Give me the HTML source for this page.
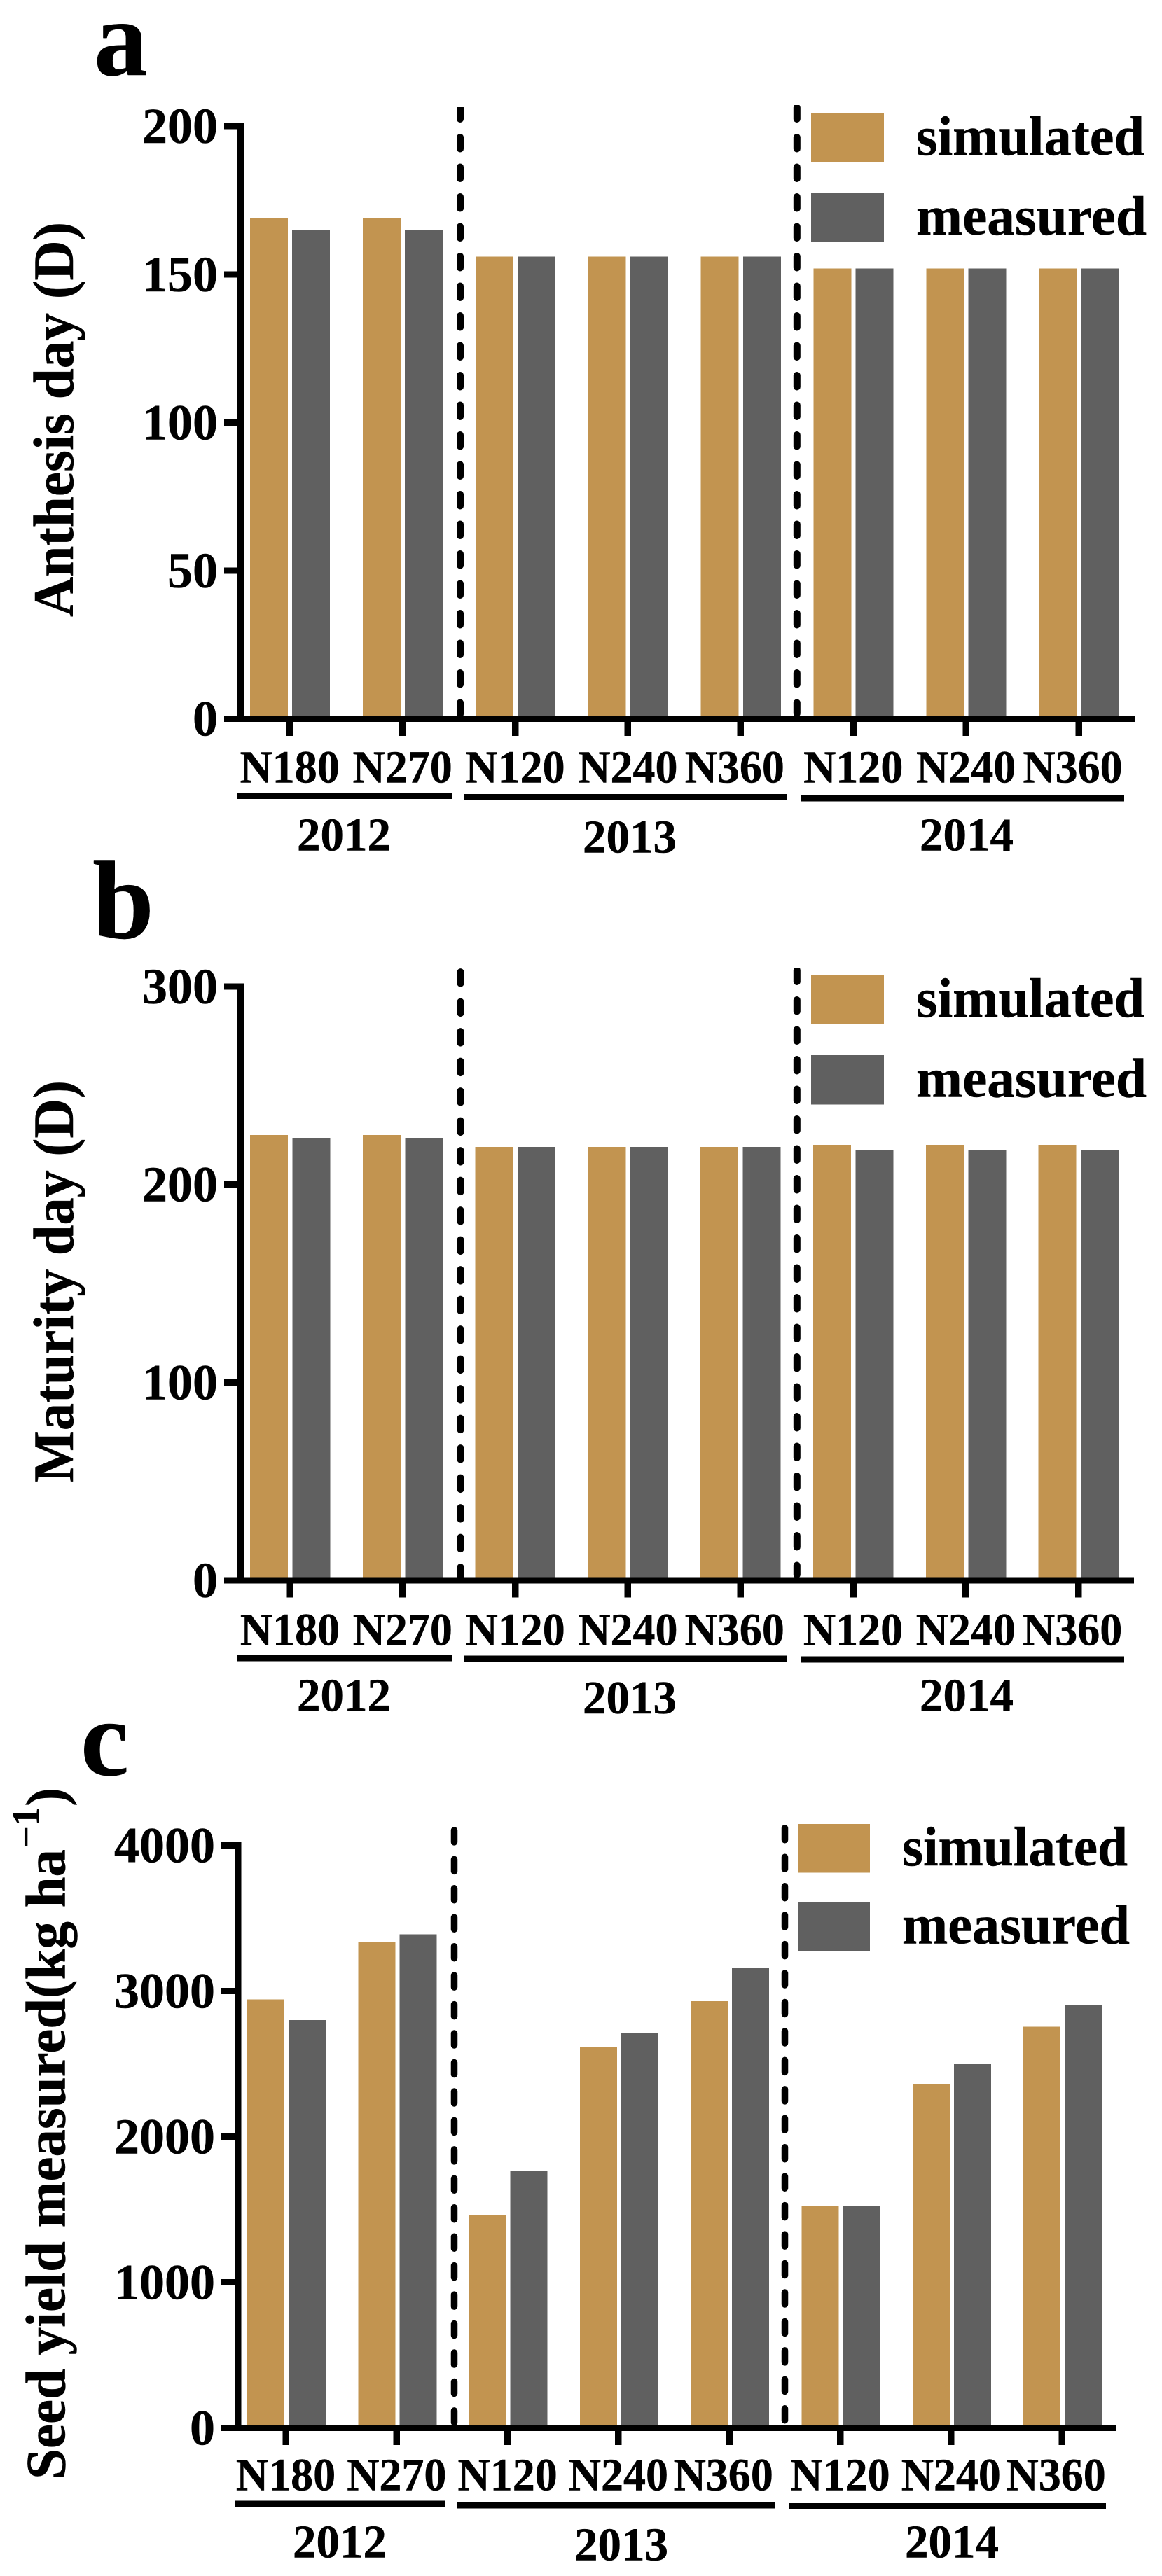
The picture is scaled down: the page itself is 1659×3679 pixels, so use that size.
<!DOCTYPE html>
<html lang="en">
<head>
<meta charset="utf-8">
<title>Simulated and measured anthesis day, maturity day and seed yield</title>
<style>
html,body{margin:0;padding:0;background:#fff;}
body{width:1659px;height:3679px;overflow:hidden;}
svg{display:block;}
rect{shape-rendering:crispEdges;}
text{font-family:"Liberation Serif","DejaVu Serif",serif;font-weight:bold;fill:#000;stroke:#000;stroke-width:.5px;}
</style>
</head>
<body>
<svg id="figure" xmlns="http://www.w3.org/2000/svg" width="1659" height="3679" viewBox="0 0 1659 3679"></svg>
<script>
const categories = ['N180','N270','N120','N240','N360','N120','N240','N360'];
const years = ['2012','2013','2014'];
const anthesisSimulated = [169,169,156,156,156,152,152,152];
const anthesisMeasured = [165,165,156,156,156,152,152,152];
const anthesisTicks = [0,50,100,150,200];
const maturitySimulated = [225,225,219,219,219,220,220,220];
const maturityMeasured = [223.5,223.5,219,219,219,217.5,217.5,217.5];
const maturityTicks = [0,100,200,300];
const yieldSimulated = [2942,3333,1463,2616,2930,1525,2363,2754];
const yieldMeasured = [2800,3390,1762,2712,3156,1525,2497,2903];
const yieldTicks = [0,1000,2000,3000,4000];

const GOLD = '#c29450';
const GRAY = '#606060';
const svg = document.getElementById('figure');

function add(parent, tag, attrs) {
  const el = document.createElementNS('http://www.w3.org/2000/svg', tag);
  for (const k in attrs) el.setAttribute(k, attrs[k]);
  parent.appendChild(el);
  return el;
}
function box(parent, x, y, w, h, fill, name) {
  const el = add(parent, 'rect', {x: x, y: y, width: w, height: h, fill: fill});
  
  
  return el;
}
function label(parent, str, x, y, size, sx, anchor, name) {
  const el = add(parent, 'text', {transform: 'translate(' + x + ' ' + y + ') scale(' + sx + ' 1)', 'font-size': size, 'text-anchor': anchor});
  el.textContent = str;
  
  
  return el;
}
function fitted(parent, str, x, y, size, len, rotate, name) {
  const attrs = {'font-size': size, textLength: len, lengthAdjust: 'spacingAndGlyphs'};
  attrs.transform = 'translate(' + x + ' ' + y + ')' + (rotate ? ' rotate(-90)' : '');
  const el = add(parent, 'text', attrs);
  el.textContent = str;
  
  
  return el;
}
/* rounded dashes; the first dash is cut flat at y1 as in the reference */
function dashed(parent, d, width, period, name) {
  const r = width / 2;
  const body = 26.5 - width;
  const phase = ((d.secondCapTop + r - d.y1) % period + period) % period;
  const el = add(parent, 'line', {x1: d.x, x2: d.x, y1: d.y1, y2: d.y2, stroke: '#000', 'stroke-width': width, 'stroke-linecap': 'round', 'stroke-dasharray': body + ' ' + (period - body), 'stroke-dashoffset': period - phase});
  
  
  const maskEl = box(parent, d.x - width, d.y1 - width - 1, width * 2, width + 1, '#fff', name + '-top-trim');
  return el;
}

function drawPanel(p) {
  const g = add(svg, 'g', {});
  
  

  const yScale = v => p.base - v / p.max * (p.base - p.top);
  const xScale = i => p.x0 + i * p.step;

  /* separators (under the axis) */
  dashed(g, p.dash1, p.dashW, p.dashPeriod, 'year-separator-1');
  dashed(g, p.dash2, p.dashW, p.dashPeriod, 'year-separator-2');

  /* bars */
  categories.forEach((c, i) => {
    const yr = years[i < 2 ? 0 : i < 5 ? 1 : 2];
    const ys = yScale(p.simulated[i]);
    const ym = yScale(p.measured[i]);
    box(g, xScale(i) + p.simOffset, ys, p.barW, p.base - ys, GOLD, 'bar-simulated-' + yr + '-' + c.toLowerCase());
    box(g, xScale(i) + p.measOffset, ym, p.barW, p.base - ym, GRAY, 'bar-measured-' + yr + '-' + c.toLowerCase());
  });

  /* axes */
  box(g, p.axisX, p.top - 4.5, 9, p.base - p.top + 9, '#000', 'y-axis-line');
  box(g, p.tickLeft, p.base - 4.5, p.axisEnd - p.tickLeft, 9, '#000', 'x-axis-line');

  /* y ticks */
  p.ticks.forEach(t => {
    box(g, p.tickLeft, yScale(t) - 4.5, p.axisX - p.tickLeft, 9, '#000', 'y-tick-' + t);
    label(g, String(t), p.tickLabelX, yScale(t) + 24, 72, 1, 'end', 'y-tick-label-' + t);
  });

  /* x ticks and labels */
  categories.forEach((c, i) => {
    box(g, xScale(i) - 4.75, p.base + 4, 9.5, 20.5, '#000', 'x-tick-' + i);
    const shift = c === 'N360' ? -8.5 : 0;
    label(g, c, xScale(i) + shift, p.base + p.catDy, 66, 0.97, 'middle', 'x-tick-label-' + i);
  });

  /* year brackets */
  years.forEach((yr, i) => {
    box(g, p.brackets[i][0], p.base + p.bracketDy[i] - 4.5, p.brackets[i][1] - p.brackets[i][0], 9, '#000', 'year-bracket-' + yr);
    label(g, yr, p.yearX[i], p.base + p.yearDy[i], 67, 1, 'middle', 'year-label-' + yr);
  });

  /* legend */
  const lg = add(g, 'g', {});
  
  
  box(lg, p.legX, p.legY1, p.legW, p.legH, GOLD, 'legend-swatch-simulated');
  box(lg, p.legX, p.legY2, p.legW, p.legH, GRAY, 'legend-swatch-measured');
  fitted(lg, 'simulated', p.legTextX, p.legBase1, 79, p.legLen1, false, 'legend-label-simulated');
  fitted(lg, 'measured', p.legTextX, p.legBase2, 79, p.legLen2, false, 'legend-label-measured');

  /* panel letter */
  fitted(g, p.letter, p.letterX, p.letterY, p.letterSize, p.letterLen, false, 'panel-letter-' + p.letter);
}

drawPanel({
  letter: 'a', simulated: anthesisSimulated, measured: anthesisMeasured, ticks: anthesisTicks, max: 200,
  top: 180.2, base: 1026.4, x0: 413.7, step: 160.9, barW: 54, simOffset: -56.7, measOffset: 3.5,
  axisX: 339, tickLeft: 320, axisEnd: 1620, tickLabelX: 311, catDy: 91,
  brackets: [[339,645],[663,1124],[1143,1605]], bracketDy: [110.2,112,113.6],
  yearX: [491,899,1380], yearDy: [188,191,188],
  dashW: 10, dashPeriod: 42.5,
  dash1: {x: 657, y1: 153, y2: 1021, secondCapTop: 191},
  dash2: {x: 1137.8, y1: 150, y2: 1019, secondCapTop: 191},
  legX: 1158, legY1: 161, legY2: 275, legW: 104, legH: 70.5,
  legTextX: 1308, legBase1: 220.8, legBase2: 334.8, legLen1: 326, legLen2: 329,
  letterX: 134, letterY: 107, letterSize: 155, letterLen: 77
});
drawPanel({
  letter: 'b', simulated: maturitySimulated, measured: maturityMeasured, ticks: maturityTicks, max: 300,
  top: 1408.9, base: 2257, x0: 414, step: 160.8, barW: 54, simOffset: -57, measOffset: 3.5,
  axisX: 339, tickLeft: 320, axisEnd: 1619, tickLabelX: 311, catDy: 92.3,
  brackets: [[339,645],[663,1124],[1143,1605]], bracketDy: [111,112,113],
  yearX: [491,899,1380], yearDy: [186.6,190,186.6],
  dashW: 10, dashPeriod: 42.5,
  dash1: {x: 657.5, y1: 1383, y2: 2252, secondCapTop: 1425.6},
  dash2: {x: 1137.8, y1: 1381.8, y2: 2249, secondCapTop: 1423},
  legX: 1158, legY1: 1392, legY2: 1507, legW: 104, legH: 70.5,
  legTextX: 1308, legBase1: 1452, legBase2: 1566.7, legLen1: 326, legLen2: 329,
  letterX: 132, letterY: 1339.5, letterSize: 160, letterLen: 88
});
drawPanel({
  letter: 'c', simulated: yieldSimulated, measured: yieldMeasured, ticks: yieldTicks, max: 4000,
  top: 2635.5, base: 3467.5, x0: 408, step: 158.3, barW: 53, simOffset: -55, measOffset: 4,
  axisX: 335.6, tickLeft: 316, axisEnd: 1594, tickLabelX: 307, catDy: 89.2,
  brackets: [[335.6,636],[653,1107],[1126,1579]], bracketDy: [108.5,110.5,112],
  yearX: [485,887,1359], yearDy: [185.2,189.2,185.2],
  dashW: 9.5, dashPeriod: 41.45,
  dash1: {x: 648.5, y1: 2609, y2: 3463, secondCapTop: 2650.6},
  dash2: {x: 1120.5, y1: 2607, y2: 3462, secondCapTop: 2647.5},
  legX: 1140, legY1: 2605, legY2: 2717, legW: 102, legH: 69.5,
  legTextX: 1288, legBase1: 2664, legBase2: 2775.7, legLen1: 322, legLen2: 325,
  letterX: 115, letterY: 2535, letterSize: 155, letterLen: 69
});

/* y-axis titles */
const titleA = fitted(svg, 'Anthesis day (D)', 104, 881, 82, 564, true, 'y-axis-title-anthesis');
const titleB = fitted(svg, 'Maturity day (D)', 104, 2117, 82, 574, true, 'y-axis-title-maturity');
const titleC = fitted(svg, 'Seed yield measured(kg ha', 92.6, 3541, 81, 900, true, 'y-axis-title-yield');
const titleCExp = fitted(svg, '\u22121', 55.6, 2639, 55, 58, true, 'y-axis-title-yield-exponent');
const titleCEnd = fitted(svg, ')', 92.6, 2580, 81, 27, true, 'y-axis-title-yield-close-paren');
</script>
</body>
</html>
